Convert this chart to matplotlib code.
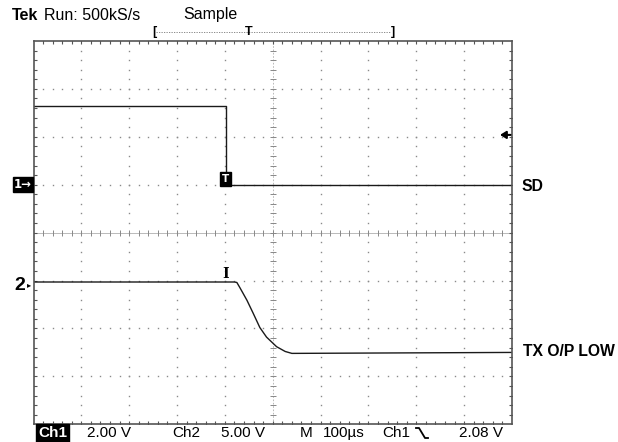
import matplotlib
matplotlib.use("Agg")
import matplotlib.pyplot as plt

# scope settings
ch1_scale = 2.0   # V/div
ch1_ground = 1.0  # div above centre
ch2_scale = 5.0
ch2_ground = -1.0
time_div = 100.0  # us/div

# Ch1 - SD (us, V)
sd_t = [0, 402, 402, 403, 403, 1000]
sd_v = [3.30, 3.30, 1.50, 1.50, 0.00, 0.00]

# Ch2 - TX O/P (us, V)
tx_t = [0, 420, 425, 432, 446, 459, 473, 487, 508, 526, 540, 1000]
tx_v = [-0.15, -0.15, -0.2, -0.8, -2.05, -3.4, -4.9, -5.9, -6.9, -7.4, -7.6, -7.5]

W, H = 618, 442
fig = plt.figure(figsize=(W / 100, H / 100), dpi=100)
fig.patch.set_facecolor("white")

def px(x, y):
    return x / W, 1 - y / H

# screen area in pixels
left, top, right, bot = 33.5, 41, 512, 424.3
ax = fig.add_axes([left / W, 1 - bot / H, (right - left) / W, (bot - top) / H])
ax.set_xlim(0, 10)
ax.set_ylim(-4, 4)
ax.set_xticks([])
ax.set_yticks([])
for s in ax.spines.values():
    s.set_color("#555555")
    s.set_linewidth(1.2)

grid_c = "#8a8a8a"
sub = [i * 0.2 for i in range(1, 50)]
xs = [x for x in sub if x < 9.99]
ys = [y - 4 for y in sub if y < 7.99]
# dotted graticule
for k in range(1, 10):
    if k == 5:
        continue
    ax.plot([k] * len(ys), ys, ls="none", marker="s", ms=1.0, color=grid_c, mew=0)
for k in range(-3, 4):
    if k == 0:
        continue
    ax.plot(xs, [k] * len(xs), ls="none", marker="s", ms=1.0, color=grid_c, mew=0)

# centre cross with minor ticks
ax.axhline(0, color="#b0b0b0", lw=0.6)
ax.axvline(5, color="#b0b0b0", lw=0.6, ls=(0, (2, 2)))
ax.plot(xs, [0] * len(xs), ls="none", marker="|", ms=4, color="#888888", mew=0.7)
ax.plot([5] * len(ys), ys, ls="none", marker="_", ms=4, color="#888888", mew=0.7)

# border ticks
ax.plot(xs, [4] * len(xs), ls="none", marker="|", ms=5, color="#555555", mew=0.8)
ax.plot(xs, [-4] * len(xs), ls="none", marker="|", ms=5, color="#555555", mew=0.8)
ax.plot([0] * len(ys), ys, ls="none", marker="_", ms=5, color="#555555", mew=0.8)
ax.plot([10] * len(ys), ys, ls="none", marker="_", ms=5, color="#555555", mew=0.8)

# traces
trace_c = "#1a1a1a"
ax.plot([t / time_div for t in sd_t], [v / ch1_scale + ch1_ground for v in sd_v],
        color=trace_c, lw=1.0)
ax.plot([t / time_div for t in tx_t], [v / ch2_scale + ch2_ground for v in tx_v],
        color=trace_c, lw=1.0)

# trigger markers
ax.text(4.02, 1.12, "T", color="white", fontsize=7.5, fontweight="bold",
        ha="center", va="center", family="DejaVu Sans",
        bbox=dict(boxstyle="square,pad=0.18", fc="black", ec="black"))
ax.text(4.02, -0.86, "I", color="black", fontsize=10, fontweight="bold",
        ha="center", va="center", family="DejaVu Serif")
# trigger level arrow
ax.annotate("", xy=(9.75, 2.04), xytext=(9.97, 2.04),
            arrowprops=dict(arrowstyle="-|>,head_length=0.35,head_width=0.22",
                            color="black", lw=1.5, shrinkA=0, shrinkB=0))

font = "Liberation Sans"
# header
fig.text(*px(12, 15), "Tek", fontsize=11.5, fontweight="bold", family=font, va="center")
fig.text(*px(44, 15), "Run: 500kS/s", fontsize=11.5, family=font, va="center")
fig.text(*px(183, 15), "Sample", fontsize=11.5, family=font, va="center")
fig.text(*px(154, 32), "[", fontsize=9, family=font, va="center", ha="center", fontweight="bold")
fig.text(*px(249, 32), "T", fontsize=9, family=font, va="center", ha="center", fontweight="bold")
fig.text(*px(393, 32), "]", fontsize=9, family=font, va="center", ha="center", fontweight="bold")
fig.add_artist(plt.Line2D([156 / W, 391 / W], [1 - 32 / H, 1 - 32 / H],
                          color="#777777", lw=0.6, ls=(0, (1.5, 1.5))))

# channel ground markers
fig.text(*px(14, 184.5), "1\u2192", fontsize=8.5, fontweight="bold", color="white",
         family="DejaVu Sans", va="center",
         bbox=dict(boxstyle="square,pad=0.12", fc="black", ec="black"))
fig.text(*px(14, 286), "2", fontsize=14, fontweight="bold", family=font, va="center")
fig.text(*px(27, 285), "\u25b8", fontsize=6, family="DejaVu Sans", va="center")

# right labels
fig.text(*px(522, 186), "SD", fontsize=11.3, fontweight="bold", family=font, va="center")
fig.text(*px(523, 352), "TX O/P LOW", fontsize=11.3, fontweight="bold", family=font, va="center")

# status line
fig.text(*px(38, 433), "Ch1", fontsize=11, color="white", family=font, va="center",
         fontweight="bold",
         bbox=dict(boxstyle="square,pad=0.1", fc="black", ec="black"))
fig.text(*px(87, 433), "2.00 V", fontsize=11, family=font, va="center")
fig.text(*px(172, 433), "Ch2", fontsize=11, family=font, va="center")
fig.text(*px(221, 433), "5.00 V", fontsize=11, family=font, va="center")
fig.text(*px(300, 433), "M", fontsize=11, family=font, va="center")
fig.text(*px(323, 433), "100\u00b5s", fontsize=11, family=font, va="center")
fig.text(*px(382, 433), "Ch1", fontsize=11, family=font, va="center")
fig.text(*px(459, 433), "2.08 V", fontsize=11, family=font, va="center")
# falling-edge trigger symbol
sx = [416, 419, 425, 428]
sy = [428, 428, 438, 438]
fig.add_artist(plt.Line2D([x / W for x in sx], [1 - y / H for y in sy],
                          color="black", lw=1.3))

fig.savefig("out.png", dpi=100)
